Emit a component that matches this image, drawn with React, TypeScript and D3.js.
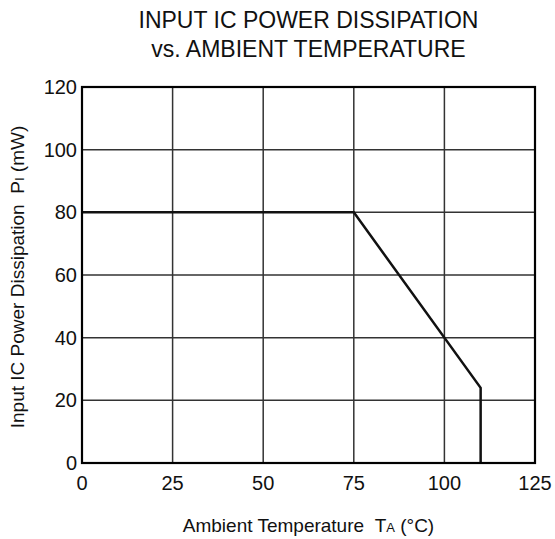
import React from 'react';
import * as d3 from 'd3';

const xTicks = [0, 25, 50, 75, 100, 125];
const yTicks = [0, 20, 40, 60, 80, 100, 120];
const tempC = [0, 75, 110, 110];
const powerMw = [80, 80, 24, 0];
const titleLines = ['INPUT IC POWER DISSIPATION', 'vs. AMBIENT TEMPERATURE'];

export default function App() {
  const width = 555;
  const height = 539;
  const left = 82;
  const right = 535;
  const top = 87;
  const bottom = 463;

  const x = d3.scaleLinear().domain([0, 125]).range([left, right]);
  const y = d3.scaleLinear().domain([0, 120]).range([bottom, top]);
  const points: [number, number][] = tempC.map((t, i) => [t, powerMw[i]]);
  const line = d3.line<[number, number]>()
    .x((d) => x(d[0]))
    .y((d) => y(d[1]));

  const font = '"Liberation Sans", Arial, Helvetica, sans-serif';
  const cx = (left + right) / 2;
  const cy = (top + bottom) / 2;

  return (
    <svg
      width={width}
      height={height}
      viewBox={`0 0 ${width} ${height}`}
      style={{ position: 'absolute', left: 0, top: 0, background: '#fff' }}
      fontFamily={font}
    >
      <rect width={width} height={height} fill="#fff" />
      {titleLines.map((t, i) => (
        <text key={t} x={cx} y={28 + i * 29} textAnchor="middle" fontSize={23} fill="#111">
          {t}
        </text>
      ))}

      {xTicks.slice(1, -1).map((t) => (
        <line key={`gx${t}`} x1={x(t)} x2={x(t)} y1={top} y2={bottom} stroke="#333" strokeWidth={1.5} />
      ))}
      {yTicks.slice(1, -1).map((t) => (
        <line key={`gy${t}`} x1={left} x2={right} y1={y(t)} y2={y(t)} stroke="#333" strokeWidth={1.5} />
      ))}

      <path d={line(points) ?? ''} fill="none" stroke="#111" strokeWidth={2.5} strokeLinejoin="miter" />

      <rect x={left} y={top} width={right - left} height={bottom - top} fill="none" stroke="#000" strokeWidth={2.2} />

      {xTicks.map((t) => (
        <text key={`xt${t}`} x={x(t)} y={490} textAnchor="middle" fontSize={20} fill="#111">
          {t}
        </text>
      ))}
      {yTicks.map((t) => (
        <text key={`yt${t}`} x={77} y={y(t) + 7} textAnchor="end" fontSize={20} fill="#111">
          {t}
        </text>
      ))}

      <text x={cx} y={532} textAnchor="middle" fontSize={19} fill="#111">
        Ambient Temperature{'\u00a0\u00a0'}T<tspan fontSize={13}>A</tspan> (°C)
      </text>
      <text
        transform={`translate(24, ${cy + 2}) rotate(-90)`}
        textAnchor="middle"
        fontSize={19}
        fill="#111"
      >
        Input IC Power Dissipation{'\u00a0\u00a0'}P<tspan fontSize={13}>I</tspan> (mW)
      </text>
    </svg>
  );
}
